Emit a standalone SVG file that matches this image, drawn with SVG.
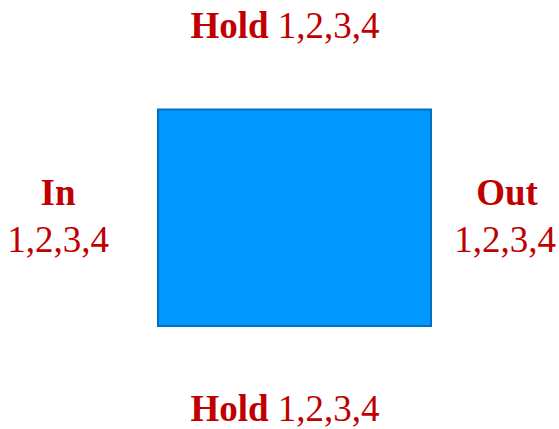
<svg xmlns="http://www.w3.org/2000/svg" width="559" height="429" viewBox="0 0 559 429">
<style>
text{font-family:"Liberation Serif","DejaVu Serif",serif;fill:#C00000;font-size:37px;text-anchor:middle}
.b{font-weight:bold}
</style>
<rect width="559" height="429" fill="#FFFFFF"/>
<g id="block">
<rect x="158" y="109.5" width="273" height="216.5" fill="#0099FF" stroke="#0070C0" stroke-width="2"/>
</g>
<g id="connectors"></g>
<g id="hold-top"><text x="285" y="38"><tspan class="b">Hold</tspan> 1,2,3,4</text></g>
<g id="in"><text x="58" y="205" class="b">In</text><text x="58" y="252">1,2,3,4</text></g>
<g id="out"><text x="507" y="205" class="b">Out</text><text x="505" y="252">1,2,3,4</text></g>
<g id="hold-bottom"><text x="285" y="421"><tspan class="b">Hold</tspan> 1,2,3,4</text></g>
</svg>
